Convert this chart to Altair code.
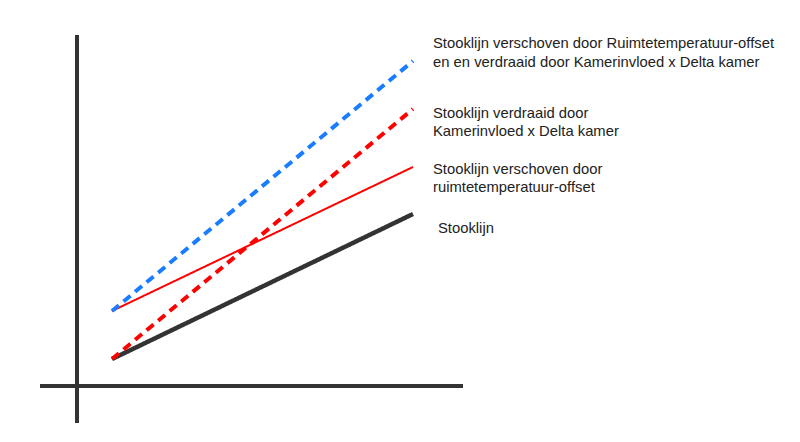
import altair as alt
import pandas as pd

# Line endpoints (diagram units, origin at the axis crossing)
series = ["Stooklijn", "Verschoven", "Verdraaid", "Verschoven en verdraaid"]
x_start = [35, 35, 35, 35]
x_end = [336, 336, 336, 336]
y_start = [27, 75, 27, 75]
y_end = [172, 219, 277, 325]
colors = ["#333333", "#ff0000", "#ff0000", "#1a7dff"]
widths = [4.5, 2, 4, 4]
dashes = [[1, 0], [1, 0], [9, 6], [9, 6]]

# Axis lines
axis_names = ["vertical", "horizontal"]
axis_x1 = [0, -37]
axis_x2 = [0, 386]
axis_y1 = [-37, 0]
axis_y2 = [351, 0]

# Labels
label_texts = [
    "Stooklijn verschoven door Ruimtetemperatuur-offset",
    "en en verdraaid door Kamerinvloed x Delta kamer",
    "Stooklijn verdraaid door",
    "Kamerinvloed x Delta kamer",
    "Stooklijn verschoven door",
    "ruimtetemperatuur-offset",
    "Stooklijn",
]
label_x = [356, 356, 356, 356, 356, 356, 361]
label_y = [342, 323, 272, 254, 216, 198, 157]

xs = alt.Scale(domain=[-69, 715])
ys = alt.Scale(domain=[-48, 378])

rows = []
for i, s in enumerate(series):
    rows.append({"s": s, "x": x_start[i], "y": y_start[i], "o": 0})
    rows.append({"s": s, "x": x_end[i], "y": y_end[i], "o": 1})
lines_df = pd.DataFrame(rows)

ax_df = pd.DataFrame({"n": axis_names, "x": axis_x1, "x2": axis_x2, "y": axis_y1, "y2": axis_y2})
axes = alt.Chart(ax_df).mark_rule(color="#333333", strokeWidth=4).encode(
    x=alt.X("x:Q", scale=xs, axis=None),
    x2="x2:Q",
    y=alt.Y("y:Q", scale=ys, axis=None),
    y2="y2:Q",
)

layers = [axes]
for i, s in enumerate(series):
    d = lines_df[lines_df.s == s]
    layers.append(
        alt.Chart(d).mark_line(
            color=colors[i], strokeWidth=widths[i], strokeDash=dashes[i], strokeCap="butt"
        ).encode(
            x=alt.X("x:Q", scale=xs, axis=None),
            y=alt.Y("y:Q", scale=ys, axis=None),
            order="o:Q",
        )
    )

lab_df = pd.DataFrame({"t": label_texts, "x": label_x, "y": label_y})
labels = alt.Chart(lab_df).mark_text(
    align="left", baseline="middle", font="Liberation Sans", fontSize=14.8, color="#222222"
).encode(
    x=alt.X("x:Q", scale=xs, axis=None),
    y=alt.Y("y:Q", scale=ys, axis=None),
    text="t:N",
)
layers.append(labels)

chart = alt.layer(*layers).properties(
    width=784, height=426, autosize=alt.AutoSizeParams(type="none"), padding=0
).configure_view(stroke=None)

chart.save("out.html", embed_options={"renderer": "svg", "actions": False})
